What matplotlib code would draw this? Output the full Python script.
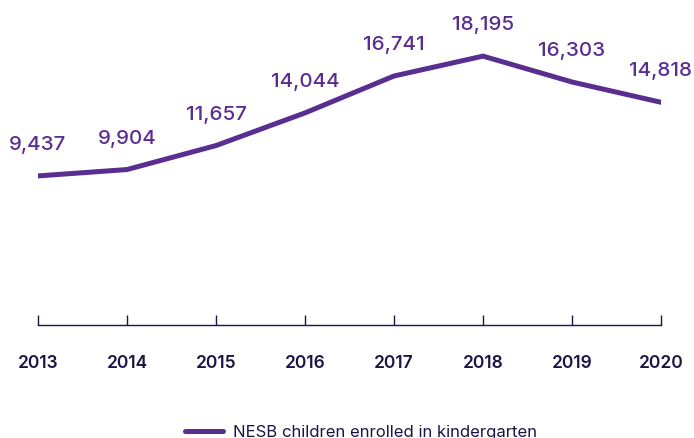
import matplotlib
matplotlib.use('Agg')
import matplotlib.pyplot as plt

# Data
years = [2013, 2014, 2015, 2016, 2017, 2018, 2019, 2020]
enrolled = [9437, 9904, 11657, 14044, 16741, 18195, 16303, 14818]
series_name = 'NESB children enrolled in kindergarten'

purple = '#5a2d91'
navy = '#1d1446'

plt.rcParams['font.family'] = ['Inter', 'DejaVu Sans']

fig = plt.figure(figsize=(6.94, 4.39), dpi=100)
ax = fig.add_axes([38 / 694, 1 - 326 / 439, (661 - 38) / 694, 326 / 439])

line, = ax.plot(years, enrolled, color=purple, linewidth=3.6,
                solid_capstyle='round', solid_joinstyle='miter',
                label=series_name)

# value labels above each point
for x, v in zip(years, enrolled):
    ax.annotate(f'{v:,}', (x, v), xytext=(0, 23), textcoords='offset points',
                ha='center', va='center', fontsize=14.8, color=purple,
                fontweight='medium')

ax.set_xlim(2013, 2020)
ax.set_ylim(-1460, 22370)
ax.set_xticks(years)
ax.set_xticklabels([str(y) for y in years], fontsize=12.5, color=navy,
                   fontweight='semibold')
ax.tick_params(axis='x', direction='in', length=7, width=1, color=navy, pad=21)
ax.set_yticks([])
for side in ['top', 'right', 'left']:
    ax.spines[side].set_visible(False)
ax.spines['bottom'].set_color(navy)
ax.spines['bottom'].set_linewidth(1)
ax.patch.set_alpha(0)

fig.legend(handles=[line], loc='center', bbox_to_anchor=(361 / 694, 1 - 433 / 439),
           frameon=False, fontsize=12, handlelength=2.3, handletextpad=0.6,
           labelcolor=navy)

fig.savefig('out.png', dpi=100)
